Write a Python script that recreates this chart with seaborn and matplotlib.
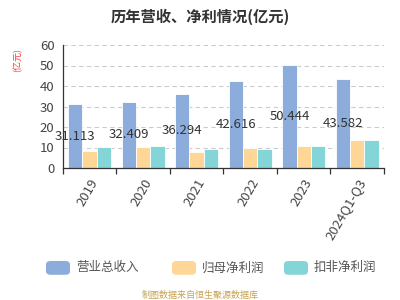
import matplotlib
matplotlib.use("Agg")
import matplotlib.pyplot as plt
import seaborn as sns
import pandas as pd
from matplotlib.patches import FancyBboxPatch

categories = ["2019", "2020", "2021", "2022", "2023", "2024Q1-Q3"]
revenue = [31.113, 32.409, 36.294, 42.616, 50.444, 43.582]
net_profit = [8.5, 10.1, 7.7, 9.8, 10.6, 13.5]
net_profit_deducted = [10.1, 10.6, 9.1, 9.3, 10.6, 13.5]
series_names = ["营业总收入", "归母净利润", "扣非净利润"]
colors = ["#8CACDC", "#FED797", "#84D5D7"]

sns.set_theme(style="white")
plt.rcParams['font.family'] = ['Noto Sans CJK SC', 'DejaVu Sans']

rows = []
for i, c in enumerate(categories):
    rows.append((c, series_names[0], revenue[i]))
    rows.append((c, series_names[1], net_profit[i]))
    rows.append((c, series_names[2], net_profit_deducted[i]))
df = pd.DataFrame(rows, columns=["year", "series", "value"])

fig = plt.figure(figsize=(4, 3), dpi=100)
ax = fig.add_axes([0.157, 0.44, 0.803, 0.41])
sns.barplot(data=df, x="year", y="value", hue="series", palette=colors,
            saturation=1, width=0.8, edgecolor="white", linewidth=0.6, ax=ax,
            legend=False, order=categories, hue_order=series_names)

ax.set_ylim(0, 60)
ax.set_yticks(range(0, 61, 10))
ax.set_xlim(-0.5, len(categories) - 0.5)
ax.set_xlabel("")
ax.set_ylabel("")
ax.yaxis.grid(True, linestyle=(0, (4, 3)), color="#cccccc", linewidth=0.8)
ax.set_axisbelow(True)
for s in ["top", "right"]:
    ax.spines[s].set_visible(False)
for s in ["left", "bottom"]:
    ax.spines[s].set_color("#333333")
    ax.spines[s].set_linewidth(0.9)
ax.tick_params(axis="both", colors="#333333", labelcolor="#444444", labelsize=9.5,
               length=4, width=0.9, direction="out", pad=2)
ax.tick_params(axis="x", bottom=False)
ax.set_xticks([i - 0.5 for i in range(len(categories) + 1)], minor=True)
ax.tick_params(axis="x", which="minor", bottom=True, length=4, width=0.9, color="#333333")
ax.set_xticklabels(categories, rotation=60, ha="right", rotation_mode="anchor")

rev_bars = ax.containers[0]
for bar, v in zip(rev_bars, revenue):
    ax.text(bar.get_x() + bar.get_width() / 2, v / 2, f"{v:.3f}",
            ha="center", va="center", fontsize=9.5, color="#333333")

fig.text(0.5, 0.945, "历年营收、净利情况(亿元)", ha="center", va="center",
         fontsize=11, fontweight="bold", color="#333333")
fig.text(0.045, 0.8, "(亿元)", ha="center", va="center", rotation=90,
         fontsize=6.5, color="#ff3333")

leg_y = 0.107
xs = [0.115, 0.43, 0.71]
for x, name, col in zip(xs, series_names, colors):
    p = FancyBboxPatch((x, leg_y - 0.023), 0.06, 0.046,
                       boxstyle="round,pad=0,rounding_size=0.012",
                       transform=fig.transFigure, facecolor=col, edgecolor="none")
    fig.patches.append(p)
    fig.text(x + 0.075, leg_y, name, ha="left", va="center", fontsize=9, color="#555555")

fig.text(0.5, 0.015, "制图数据来自恒生聚源数据库", ha="center", va="center",
         fontsize=6.5, color="#C8A24E")

fig.savefig("out.png", dpi=100)
